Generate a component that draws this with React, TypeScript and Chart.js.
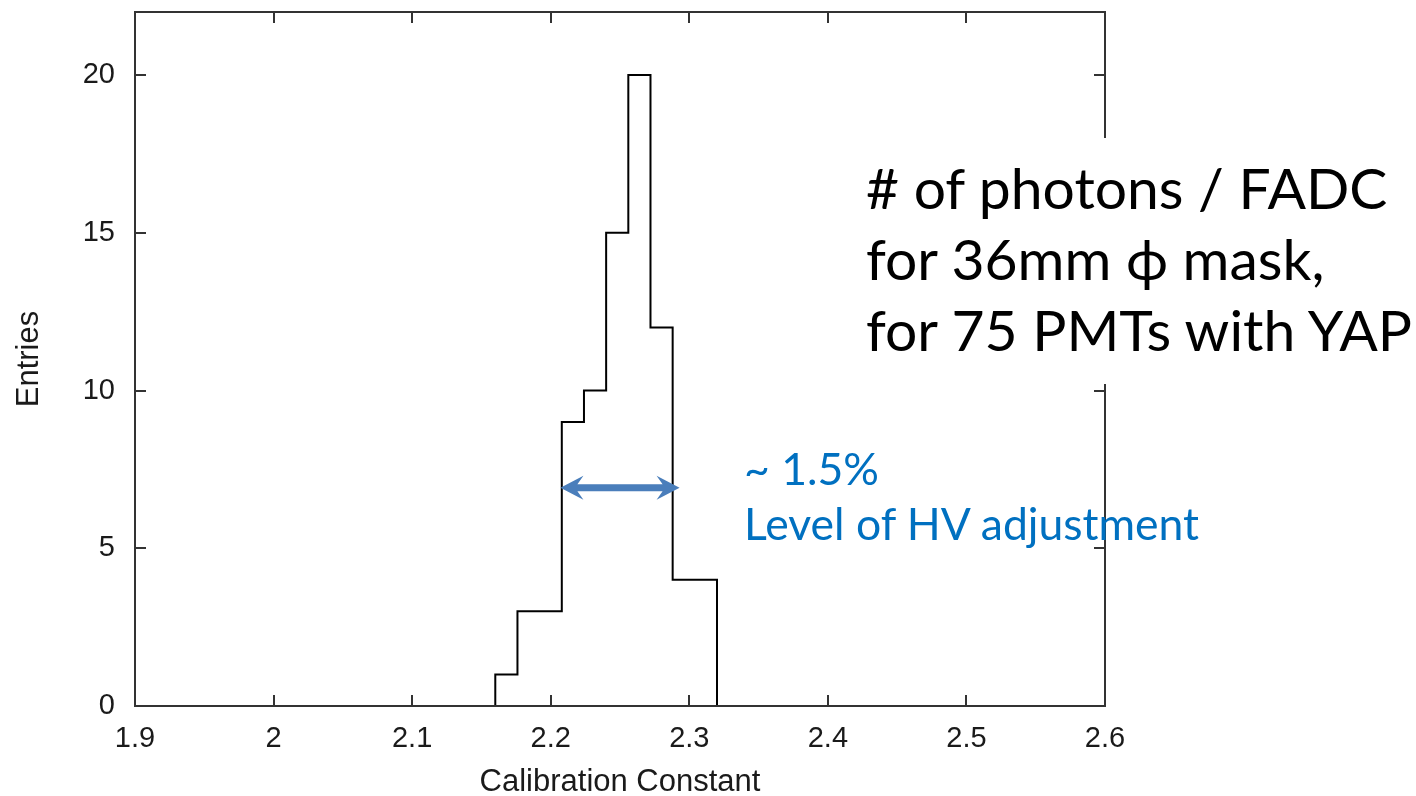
import React, { useEffect, useRef } from "react";
import { Chart, registerables } from "chart.js";

Chart.register(...registerables);

// ---- data ----
const binEdges = [2.16, 2.176, 2.192, 2.208, 2.224, 2.24, 2.256, 2.272, 2.288, 2.304, 2.32];
const binCounts = [1, 3, 3, 9, 10, 15, 20, 12, 4, 4];
const xTickValues = [1.9, 2.0, 2.1, 2.2, 2.3, 2.4, 2.5, 2.6];
const yTickValues = [0, 5, 10, 15, 20];
const xRange = [1.9, 2.6];
const yRange = [0, 22];
const arrowSpan = [2.207, 2.293];
const arrowLevel = 6.92;
const xTitle = "Calibration Constant";
const yTitle = "Entries";
const noteLines = ["# of photons / FADC", "for 36mm ϕ mask,", "for 75 PMTs with YAP"];
const widthNote = ["~ 1.5%", "Level of HV adjustment"];

const AXIS_FONT = '"Liberation Sans", Arial, sans-serif';
const NOTE_FONT = 'Lato, "Open Sans", sans-serif';

const framePlugin = {
  id: "frameAndTicks",
  afterDatasetsDraw(chart: any) {
    const { ctx, chartArea, scales } = chart;
    const { left, right, top, bottom } = chartArea;
    ctx.save();
    // arrow
    const xs = scales.x;
    const ys = scales.y;
    const ax0 = xs.getPixelForValue(arrowSpan[0]);
    const ax1 = xs.getPixelForValue(arrowSpan[1]);
    const ay = ys.getPixelForValue(arrowLevel);
    const headLen = 23;
    const headHalf = 12;
    const notch = 6;
    const shaftHalf = 3.5;
    ctx.fillStyle = "rgb(74,126,187)";
    ctx.beginPath();
    ctx.moveTo(ax0, ay);
    ctx.lineTo(ax0 + headLen, ay - headHalf);
    ctx.lineTo(ax0 + headLen - notch, ay - shaftHalf);
    ctx.lineTo(ax1 - headLen + notch, ay - shaftHalf);
    ctx.lineTo(ax1 - headLen, ay - headHalf);
    ctx.lineTo(ax1, ay);
    ctx.lineTo(ax1 - headLen, ay + headHalf);
    ctx.lineTo(ax1 - headLen + notch, ay + shaftHalf);
    ctx.lineTo(ax0 + headLen - notch, ay + shaftHalf);
    ctx.lineTo(ax0 + headLen, ay + headHalf);
    ctx.closePath();
    ctx.fill();

    // frame
    ctx.strokeStyle = "#333";
    ctx.lineWidth = 2;
    ctx.strokeRect(left, top, right - left, bottom - top);
    // inward ticks
    const tl = 11;
    ctx.beginPath();
    xTickValues.forEach((v) => {
      const px = Math.round(xs.getPixelForValue(v));
      ctx.moveTo(px, bottom);
      ctx.lineTo(px, bottom - tl);
      ctx.moveTo(px, top);
      ctx.lineTo(px, top + tl);
    });
    yTickValues.forEach((v) => {
      const py = Math.round(ys.getPixelForValue(v));
      ctx.moveTo(left, py);
      ctx.lineTo(left + tl, py);
      ctx.moveTo(right, py);
      ctx.lineTo(right - tl, py);
    });
    ctx.stroke();
    ctx.restore();
  },
};

export default function App() {
  const canvasRef = useRef<HTMLCanvasElement | null>(null);

  useEffect(() => {
    const canvas = canvasRef.current;
    if (!canvas) return;
    const points: { x: number; y: number }[] = [{ x: binEdges[0], y: 0 }];
    binCounts.forEach((c, i) => points.push({ x: binEdges[i], y: c }));
    points.push({ x: binEdges[binEdges.length - 1], y: 0 });

    const chart = new Chart(canvas, {
      type: "line",
      data: {
        datasets: [
          {
            data: points,
            stepped: "before",
            borderColor: "#000",
            borderWidth: 2,
            pointRadius: 0,
            fill: false,
          } as any,
        ],
      },
      options: {
        responsive: false,
        animation: false,
        devicePixelRatio: 1,
        layout: { padding: { left: 0, top: 12, right: 311, bottom: 0 } },
        plugins: { legend: { display: false }, tooltip: { enabled: false } },
        scales: {
          x: {
            type: "linear",
            min: xRange[0],
            max: xRange[1],
            grid: { display: false, drawTicks: false },
            border: { display: false },
            afterBuildTicks: (s: any) => {
              s.ticks = xTickValues.map((v) => ({ value: v }));
            },
            afterFit: (s: any) => {
              s.height = 90;
              s.paddingLeft = 0;
              s.paddingRight = 0;
            },
            ticks: {
              padding: 16,
              autoSkip: false,
              maxRotation: 0,
              color: "#1a1a1a",
              font: { family: AXIS_FONT, size: 29 },
              callback: (v: any) => String(Number(Number(v).toFixed(1))),
            },
            title: {
              display: true,
              text: xTitle,
              color: "#1a1a1a",
              font: { family: AXIS_FONT, size: 31, lineHeight: 0.9 },
              padding: { top: 0, bottom: 0 },
            },
          },
          y: {
            type: "linear",
            min: yRange[0],
            max: yRange[1],
            grid: { display: false, drawTicks: false },
            border: { display: false },
            afterBuildTicks: (s: any) => {
              s.ticks = yTickValues.map((v) => ({ value: v }));
            },
            afterFit: (s: any) => {
              s.width = 135;
              s.paddingTop = 0;
              s.paddingBottom = 0;
            },
            ticks: {
              padding: 20,
              color: "#1a1a1a",
              font: { family: AXIS_FONT, size: 29 },
            },
            title: {
              display: true,
              text: yTitle,
              color: "#1a1a1a",
              font: { family: AXIS_FONT, size: 31, lineHeight: 1.2 },
              padding: { top: 11, bottom: 0 },
            },
          },
        },
      } as any,
      plugins: [framePlugin],
    });
    return () => chart.destroy();
  }, []);

  return (
    <div
      style={{
        position: "fixed",
        left: 0,
        top: 0,
        width: 1416,
        height: 796,
        background: "#fff",
        overflow: "hidden",
      }}
    >
      <canvas
        ref={canvasRef}
        width={1416}
        height={796}
        style={{ position: "absolute", left: 0, top: 0, width: 1416, height: 796 }}
      />
      <div
        style={{
          position: "absolute",
          left: 744,
          top: 440,
          fontFamily: NOTE_FONT,
          fontSize: 44.5,
          lineHeight: "55px",
          color: "#0070C0",
          whiteSpace: "nowrap",
        }}
      >
        {widthNote.map((t, i) => (
          <div key={i}>{t}</div>
        ))}
      </div>
      <div
        style={{
          position: "absolute",
          left: 855,
          top: 138,
          width: 561,
          height: 246,
          boxSizing: "border-box",
          paddingLeft: 11,
          paddingTop: 14,
          background: "#fff",
          fontFamily: NOTE_FONT,
          fontSize: 57,
          lineHeight: "71px",
          color: "#000",
          whiteSpace: "nowrap",
        }}
      >
        {noteLines.map((t, i) => (
          <div key={i}>{t}</div>
        ))}
      </div>
    </div>
  );
}
